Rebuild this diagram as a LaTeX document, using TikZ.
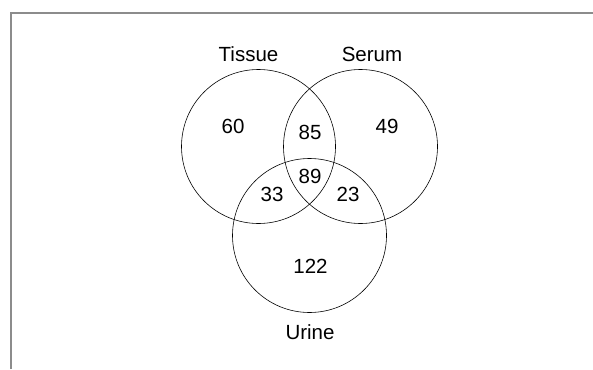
\documentclass[tikz,border=0pt]{standalone}
\usepackage{fontspec}
\setmainfont{Liberation Sans}
\usepackage{xcolor}
\usepackage{tikz}
\usetikzlibrary{positioning}

\begin{document}
\begin{tikzpicture}[
  x=1pt, y=-1pt,
  set/.style={draw, circle, line width=0.6pt, minimum size=2*\setrad, inner sep=0pt},
  num/.style={font=\fontsize{20.5}{22}\selectfont, inner sep=0pt},
  title/.style={font=\fontsize{20.5}{22}\selectfont, inner sep=0pt},
  frame/.style={draw=black!45, line width=2pt},
]
\def\setrad{77pt}      % radius of each set

\useasboundingbox (0,0) rectangle (593,369);

% outer frame (top and left only)
\coordinate (fbl) at (11,369);
\coordinate (ftl) at (11,13);
\coordinate (ftr) at (593,13);
\draw[frame] (fbl) -- (ftl) -- (ftr);

\node[set] (tissue) at (258.5,146.5) {};
\node[set] (serum) at (360.5,146.5) {};
\node[set] (urine) at (309.5,235.5) {};

\node[title] (l_tissue) at (248.5,54.5) {Tissue};
\node[title] (l_serum) at (372,54.5) {Serum};
\node[title] (l_urine) at (310,332) {Urine};

\node[num] (n_t) at (233,126) {60};
\node[num] (n_s) at (387,126) {49};
\node[num] (n_ts) at (310,132) {85};
\node[num] (n_tsu) at (310,176) {89};
\node[num] (n_tu) at (272,194) {33};
\node[num] (n_su) at (348,194) {23};
\node[num] (n_u) at (310.5,266) {122};
\end{tikzpicture}
\end{document}
